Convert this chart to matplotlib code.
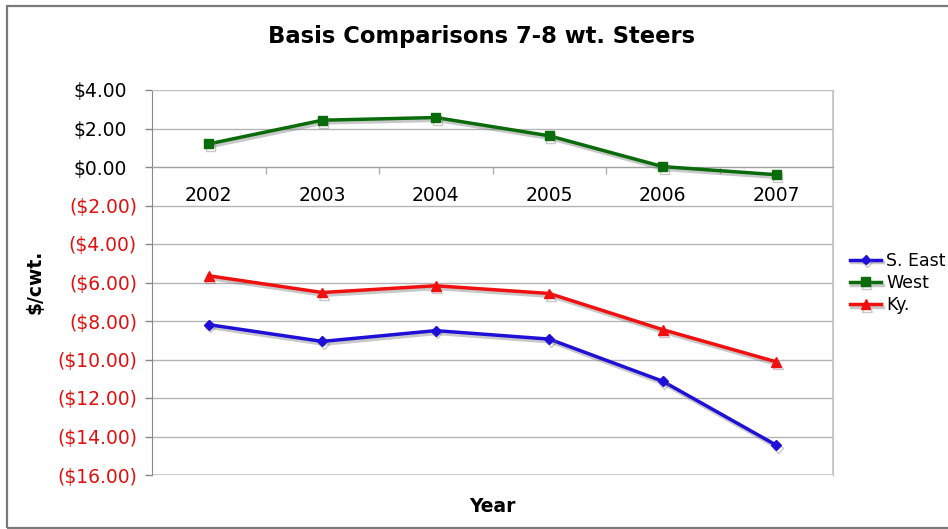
import matplotlib
matplotlib.use("Agg")
import matplotlib.pyplot as plt
import matplotlib.patheffects as pe
import matplotlib.transforms as mtransforms
from matplotlib.patches import Rectangle
from matplotlib.ticker import FixedLocator

# Basis by year ($/cwt.) for 7-8 weight steers
years = ["2002", "2003", "2004", "2005", "2006", "2007"]
south_east = [-8.19, -9.06, -8.50, -8.94, -11.13, -14.45]
west = [1.20, 2.43, 2.57, 1.62, 0.02, -0.40]
kentucky = [-5.65, -6.52, -6.17, -6.57, -8.45, -10.12]
series_names = ["S. East", "West", "Ky."]
y_ticks = [4, 2, 0, -2, -4, -6, -8, -10, -12, -14, -16]

fig = plt.figure(figsize=(9.48, 5.29), dpi=100)
ax = fig.add_axes([152 / 948, 1 - 475 / 529, (833 - 152) / 948, (475 - 90) / 529])

# outer chart border
fig.patches.append(Rectangle((7 / 948, 1.5 / 529), 1.2, 1 - 7 / 529,
                             transform=fig.transFigure, fill=False,
                             edgecolor="#7a7a7a", linewidth=1.6))

x = list(range(len(years)))
shadow = [pe.SimpleLineShadow(offset=(1.0, -2.0), shadow_color="#777777", alpha=0.4),
          pe.Normal()]

ax.plot(x, south_east, color="#1f10d8", lw=2.5, marker="D", markersize=5,
        label=series_names[0], path_effects=shadow, zorder=4)
ax.plot(x, west, color="#0a6b0a", lw=2.5, marker="s", markersize=6.5,
        label=series_names[1], path_effects=shadow, zorder=4)
ax.plot(x, kentucky, color="#f01010", lw=2.5, marker="^", markersize=7,
        label=series_names[2], path_effects=shadow, zorder=4)

ax.set_xlim(-0.5, len(years) - 0.5)
ax.set_ylim(-16, 4)

# y axis: accounting-style currency labels; positives leave room for ")"
ax.set_yticks(y_ticks)
ax.set_yticklabels([])
ax.tick_params(axis="y", length=5, width=1, color="#888888")
ylab_trans = mtransforms.blended_transform_factory(ax.transAxes, ax.transData)
for v in y_ticks:
    if v >= 0:
        txt, col, shift = f"${v:.2f}", "black", -25
    else:
        txt, col, shift = f"(${-v:.2f})", "#e01010", -15
    off = mtransforms.ScaledTranslation(shift / 100, 0, fig.dpi_scale_trans)
    ax.text(0, v, txt, transform=ylab_trans + off, ha="right",
            va="center_baseline", fontsize=13.5, color=col, clip_on=False)
ax.yaxis.grid(True, color="#b4b4b4", linewidth=1)
ax.set_axisbelow(True)

# category axis crossing at zero
ax.spines["bottom"].set_position(("data", 0))
ax.spines["bottom"].set_color("#a0a0a0")
ax.set_xticks(x)
ax.set_xticklabels(years, fontsize=13.5)
ax.xaxis.set_minor_locator(FixedLocator([i + 0.5 for i in x[:-1]]))
ax.tick_params(axis="x", which="major", length=0, pad=14)
ax.tick_params(axis="x", which="minor", length=5, width=1, color="#b0b0b0")

ax.spines["left"].set_color("#888888")
for side in ("top", "right"):
    ax.spines[side].set_color("#c4c4c4")
ax.add_patch(Rectangle((0, 0), 1, 1, transform=ax.transAxes, fill=False,
                       edgecolor="#c4c4c4", linewidth=1.2, zorder=1))

fig.text(482 / 948, 1 - 37 / 529, "Basis Comparisons 7-8 wt. Steers",
         ha="center", va="center", fontsize=16.3, fontweight="bold")
fig.text(35 / 948, 1 - 282 / 529, "$/cwt.", rotation=90, ha="center",
         va="center", fontsize=13.5, fontweight="bold")
fig.text(492 / 948, 1 - 507 / 529, "Year", ha="center", va="center",
         fontsize=13.5, fontweight="bold")

ax.legend(loc="center left", bbox_to_anchor=(843 / 948, 1 - 283 / 529),
          bbox_transform=fig.transFigure, frameon=False, fontsize=12.5,
          handlelength=1.8, handletextpad=0.3, labelspacing=0.25,
          borderaxespad=0)

fig.savefig("out.png", dpi=100)
